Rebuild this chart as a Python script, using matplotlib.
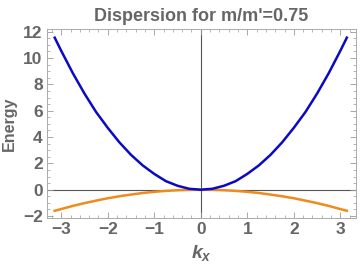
import matplotlib
matplotlib.use("Agg")
import matplotlib.pyplot as plt
from matplotlib.ticker import MultipleLocator

# values
kx = [-3.14, -3.0, -2.75, -2.5, -2.25, -2.0, -1.75, -1.5, -1.25, -1.0, -0.75, -0.5, -0.25, 0.0,
      0.25, 0.5, 0.75, 1.0, 1.25, 1.5, 1.75, 2.0, 2.25, 2.5, 2.75, 3.0, 3.14]
upper = [11.55, 10.55, 8.85, 7.3, 5.9, 4.7, 3.6, 2.65, 1.85, 1.2, 0.65, 0.3, 0.07, 0.0,
         0.07, 0.3, 0.65, 1.2, 1.85, 2.65, 3.6, 4.7, 5.9, 7.3, 8.85, 10.55, 11.55]
lower = [-1.6, -1.47, -1.23, -1.02, -0.83, -0.65, -0.5, -0.37, -0.25, -0.16, -0.09, -0.04, -0.01, 0.0,
         -0.01, -0.04, -0.09, -0.16, -0.25, -0.37, -0.5, -0.65, -0.83, -1.02, -1.23, -1.47, -1.6]

grey = "#666666"
plt.rcParams["font.family"] = ["Liberation Sans", "DejaVu Sans"]
plt.rcParams["mathtext.fontset"] = "custom"
plt.rcParams["mathtext.it"] = "Liberation Sans:italic:bold"
plt.rcParams["mathtext.rm"] = "Liberation Sans:bold"

fig = plt.figure(figsize=(3.6, 2.67), dpi=100)
ax = fig.add_axes([0.130, 0.1835, 0.858, 0.7075])

ax.axhline(0, color="#555555", lw=0.8, zorder=1)
ax.axvline(0, color="#555555", lw=0.8, zorder=1)
ax.plot(kx, upper, color="#0a0ac4", lw=1.8, zorder=3)
ax.plot(kx, lower, color="#ef8a1c", lw=1.8, zorder=2)

ax.set_xlim(-3.31, 3.33)
ax.set_ylim(-2.15, 12.2)
ax.xaxis.set_major_locator(MultipleLocator(1))
ax.xaxis.set_minor_locator(MultipleLocator(0.2))
ax.yaxis.set_major_locator(MultipleLocator(2))
ax.yaxis.set_minor_locator(MultipleLocator(0.5))
ax.tick_params(which="both", direction="in", top=True, right=True, colors="#999999",
               labelcolor=grey, labelsize=12.5, pad=3)
ax.tick_params(which="major", length=4, width=0.6)
ax.tick_params(which="minor", length=2, width=0.5)
for lab in ax.get_xticklabels() + ax.get_yticklabels():
    lab.set_fontweight("bold")
for s in ax.spines.values():
    s.set_color("#aaaaaa")
    s.set_linewidth(0.7)

ax.set_title("Dispersion for m/m'=0.75", color=grey, fontsize=13, fontweight="bold", pad=6)
ax.set_ylabel("Energy", color=grey, fontsize=11.5, fontweight="bold", labelpad=4)
ax.set_xlabel("$k_x$", color=grey, fontsize=14, labelpad=4)

fig.savefig("out.png", dpi=100)
